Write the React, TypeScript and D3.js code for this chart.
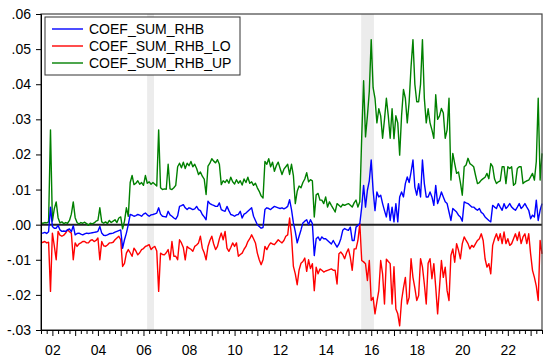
import { axisBottom, axisLeft, line, range, scaleLinear, select } from "d3";
import { useEffect, useRef } from "react";

// monthly observations, first one is 2001M07
const START_YEAR = 2001;
const START_MONTH = 7;

// one row per calendar year (2001 has Jul-Dec, 2023 has Jan-Jul)
const coefSumRhb = [
  -0.0024, -0.0024, -0.0022, -0.0025, -0.0020, 0.0050,
  -0.0005, -0.0010, -0.0010, -0.0002, -0.0015, -0.0019, -0.0018, -0.0019, -0.0015, -0.0012, -0.0020, -0.0003,
  -0.0029, -0.0025, -0.0024, -0.0027, -0.0029, -0.0026, -0.0024, -0.0025, -0.0024, -0.0023, -0.0022, -0.0021,
  -0.0019, -0.0005, -0.0024, -0.0030, -0.0031, -0.0029, -0.0026, -0.0025, -0.0024, -0.0021, -0.0019, -0.0017,
  -0.0015, -0.0067, -0.0043, -0.0024, 0.0000, 0.0029, 0.0027, 0.0024, 0.0026, 0.0029, 0.0027, 0.0024,
  0.0030, 0.0033, 0.0028, 0.0024, 0.0028, 0.0029, 0.0031, 0.0033, 0.0048, 0.0030, 0.0024, 0.0023,
  0.0022, 0.0038, 0.0028, 0.0024, 0.0019, 0.0016, 0.0025, 0.0052, 0.0054, 0.0057, 0.0048, 0.0043,
  0.0048, 0.0046, 0.0043, 0.0045, 0.0052, 0.0043, 0.0040, 0.0029, 0.0022, 0.0014, 0.0067, 0.0060,
  0.0057, 0.0055, 0.0052, 0.0052, 0.0062, 0.0043, 0.0040, 0.0038, 0.0052, 0.0040, 0.0029, 0.0027,
  0.0024, 0.0028, 0.0029, 0.0038, 0.0019, 0.0030, 0.0033, 0.0038, 0.0043, 0.0048, 0.0024, 0.0012,
  0.0000, -0.0005, -0.0010, -0.0008, 0.0043, 0.0048, 0.0046, 0.0043, 0.0048, 0.0052, 0.0050, 0.0048,
  0.0046, 0.0048, 0.0045, 0.0048, 0.0052, 0.0071, 0.0043, 0.0005, -0.0020, -0.0052, -0.0033, -0.0015,
  0.0005, 0.0010, 0.0014, 0.0000, 0.0014, 0.0003, -0.0088, -0.0040, -0.0035, -0.0045, -0.0035, -0.0040,
  -0.0040, -0.0045, -0.0050, -0.0055, -0.0045, -0.0055, -0.0064, -0.0055, -0.0040, -0.0016, -0.0011, -0.0014,
  -0.0016, -0.0007, -0.0045, -0.0045, -0.0007, -0.0002, 0.0003, 0.0050, 0.0112, 0.0050, 0.0098, 0.0125,
  0.0184, 0.0098, 0.0040, 0.0093, 0.0079, 0.0084, 0.0060, 0.0040, 0.0022, 0.0060, 0.0012, 0.0050,
  0.0008, 0.0060, 0.0008, 0.0079, 0.0093, 0.0079, 0.0117, 0.0136, 0.0120, 0.0150, 0.0184, 0.0107,
  0.0084, 0.0117, 0.0079, 0.0184, 0.0117, 0.0079, 0.0079, 0.0093, 0.0079, 0.0055, 0.0112, 0.0060,
  0.0075, 0.0093, 0.0079, 0.0065, 0.0060, 0.0036, 0.0012, 0.0046, 0.0041, 0.0036, 0.0027, 0.0022,
  0.0010, 0.0065, 0.0062, 0.0060, 0.0055, 0.0050, 0.0050, 0.0045, 0.0041, 0.0046, 0.0035, 0.0031,
  0.0022, 0.0017, 0.0012, 0.0008, 0.0055, 0.0050, 0.0046, 0.0060, 0.0050, 0.0041, 0.0060, 0.0046,
  0.0052, 0.0060, 0.0050, 0.0045, 0.0041, 0.0050, 0.0060, 0.0046, 0.0052, 0.0060, 0.0050, 0.0041,
  0.0017, 0.0027, 0.0022, 0.0070, 0.0012, 0.0041, 0.0060,
];

const coefSumRhbLo = [
  -0.0052, -0.0050, -0.0048, -0.0052, -0.0050, -0.0190,
  -0.0024, -0.0060, -0.0100, -0.0019, -0.0030, -0.0033, -0.0030, -0.0024, -0.0014, -0.0020, -0.0024, -0.0100,
  -0.0052, -0.0062, -0.0055, -0.0052, -0.0048, -0.0048, -0.0052, -0.0052, -0.0045, -0.0043, -0.0048, -0.0045,
  -0.0038, -0.0100, -0.0048, -0.0060, -0.0062, -0.0058, -0.0052, -0.0052, -0.0050, -0.0043, -0.0038, -0.0033,
  -0.0043, -0.0119, -0.0110, -0.0081, -0.0071, -0.0080, -0.0090, -0.0067, -0.0075, -0.0086, -0.0080, -0.0071,
  -0.0068, -0.0062, -0.0060, -0.0057, -0.0071, -0.0065, -0.0062, -0.0075, -0.0190, -0.0081, -0.0085, -0.0086,
  -0.0080, -0.0071, -0.0100, -0.0048, -0.0090, -0.0090, -0.0100, -0.0043, -0.0052, -0.0065, -0.0100, -0.0062,
  -0.0067, -0.0070, -0.0076, -0.0062, -0.0058, -0.0052, -0.0033, -0.0067, -0.0080, -0.0100, -0.0062, -0.0045,
  -0.0033, -0.0055, -0.0071, -0.0062, -0.0040, -0.0024, -0.0043, -0.0019, -0.0067, -0.0076, -0.0065, -0.0052,
  -0.0062, -0.0052, -0.0090, -0.0085, -0.0081, -0.0070, -0.0062, -0.0048, -0.0040, -0.0029, -0.0040, -0.0052,
  -0.0081, -0.0100, -0.0114, -0.0100, -0.0062, -0.0071, -0.0060, -0.0052, -0.0055, -0.0057, -0.0050, -0.0043,
  -0.0048, -0.0052, -0.0045, -0.0033, -0.0029, 0.0019, -0.0033, -0.0119, -0.0140, -0.0171, -0.0129, -0.0110,
  -0.0105, -0.0095, -0.0133, -0.0100, -0.0125, -0.0111, -0.0188, -0.0121, -0.0140, -0.0126, -0.0130, -0.0135,
  -0.0132, -0.0130, -0.0128, -0.0126, -0.0130, -0.0130, -0.0169, -0.0083, -0.0078, -0.0085, -0.0097, -0.0080,
  -0.0069, -0.0093, -0.0130, -0.0069, -0.0069, -0.0045, 0.0003, -0.0102, -0.0106, -0.0111, -0.0159, -0.0102,
  -0.0216, -0.0207, -0.0254, -0.0220, -0.0188, -0.0102, -0.0140, -0.0226, -0.0098, -0.0105, -0.0111, -0.0226,
  -0.0120, -0.0240, -0.0254, -0.0288, -0.0216, -0.0180, -0.0150, -0.0226, -0.0207, -0.0097, -0.0150, -0.0180,
  -0.0216, -0.0202, -0.0097, -0.0120, -0.0169, -0.0226, -0.0110, -0.0097, -0.0154, -0.0111, -0.0178, -0.0254,
  -0.0178, -0.0102, -0.0150, -0.0121, -0.0188, -0.0216, -0.0088, -0.0069, -0.0107, -0.0054, -0.0073, -0.0097,
  -0.0054, -0.0035, -0.0045, -0.0054, -0.0069, -0.0059, -0.0064, -0.0054, -0.0045, -0.0040, -0.0026, -0.0045,
  -0.0097, -0.0121, -0.0111, -0.0140, -0.0059, -0.0040, -0.0026, -0.0045, -0.0026, -0.0054, -0.0021, -0.0054,
  -0.0040, -0.0059, -0.0054, -0.0040, -0.0026, -0.0045, -0.0021, -0.0054, -0.0035, -0.0026, -0.0054, -0.0026,
  -0.0083, -0.0130, -0.0150, -0.0175, -0.0216, -0.0045, -0.0083,
];

const coefSumRhbUp = [
  0.0005, 0.0004, 0.0006, 0.0005, 0.0008, 0.0270,
  0.0010, 0.0045, 0.0065, 0.0020, 0.0005, 0.0008, 0.0003, 0.0006, 0.0004, 0.0012, 0.0030, 0.0065,
  0.0020, 0.0006, 0.0002, 0.0006, 0.0004, 0.0007, 0.0003, -0.0002, 0.0004, 0.0002, 0.0005, 0.0010,
  0.0012, 0.0048, 0.0008, 0.0004, 0.0008, 0.0003, 0.0012, 0.0006, 0.0010, 0.0014, 0.0006, 0.0019,
  0.0022, -0.0012, 0.0010, 0.0048, 0.0024, 0.0120, 0.0140, 0.0114, 0.0118, 0.0125, 0.0115, 0.0120,
  0.0112, 0.0140, 0.0118, 0.0122, 0.0115, 0.0120, 0.0115, 0.0110, 0.0270, 0.0105, 0.0100, 0.0102,
  0.0101, 0.0172, 0.0102, 0.0100, 0.0105, 0.0112, 0.0165, 0.0175, 0.0162, 0.0178, 0.0160, 0.0175,
  0.0168, 0.0180, 0.0165, 0.0172, 0.0160, 0.0143, 0.0150, 0.0138, 0.0130, 0.0086, 0.0167, 0.0175,
  0.0188, 0.0181, 0.0176, 0.0185, 0.0172, 0.0114, 0.0125, 0.0120, 0.0128, 0.0118, 0.0135, 0.0122,
  0.0116, 0.0128, 0.0118, 0.0125, 0.0113, 0.0130, 0.0120, 0.0135, 0.0118, 0.0122, 0.0112, 0.0118,
  0.0105, 0.0095, 0.0082, 0.0076, 0.0180, 0.0172, 0.0188, 0.0165, 0.0178, 0.0152, 0.0168, 0.0178,
  0.0160, 0.0143, 0.0158, 0.0165, 0.0172, 0.0143, 0.0172, 0.0140, 0.0060, 0.0095, 0.0110, 0.0105,
  0.0120, 0.0130, 0.0148, 0.0122, 0.0128, 0.0125, 0.0022, 0.0085, 0.0089, 0.0070, 0.0070, 0.0060,
  0.0079, 0.0050, 0.0065, 0.0055, 0.0046, 0.0036, 0.0060, 0.0055, 0.0050, 0.0058, 0.0055, 0.0058,
  0.0060, 0.0055, 0.0050, 0.0062, 0.0070, 0.0050, 0.0065, 0.0250, 0.0410, 0.0250, 0.0310, 0.0380,
  0.0527, 0.0390, 0.0360, 0.0290, 0.0330, 0.0310, 0.0246, 0.0300, 0.0360, 0.0310, 0.0246, 0.0330,
  0.0245, 0.0310, 0.0290, 0.0198, 0.0310, 0.0385, 0.0360, 0.0290, 0.0350, 0.0450, 0.0527, 0.0400,
  0.0350, 0.0350, 0.0400, 0.0527, 0.0360, 0.0290, 0.0330, 0.0290, 0.0270, 0.0246, 0.0370, 0.0300,
  0.0310, 0.0331, 0.0318, 0.0246, 0.0270, 0.0360, 0.0127, 0.0203, 0.0174, 0.0146, 0.0150, 0.0120,
  0.0084, 0.0165, 0.0170, 0.0189, 0.0174, 0.0170, 0.0165, 0.0140, 0.0117, 0.0120, 0.0127, 0.0131,
  0.0135, 0.0146, 0.0131, 0.0174, 0.0165, 0.0130, 0.0117, 0.0122, 0.0125, 0.0165, 0.0165, 0.0117,
  0.0165, 0.0160, 0.0165, 0.0112, 0.0117, 0.0160, 0.0165, 0.0165, 0.0117, 0.0122, 0.0125, 0.0127,
  0.0136, 0.0146, 0.0127, 0.0180, 0.0360, 0.0127, 0.0203,
];

const seriesNames = ["COEF_SUM_RHB", "COEF_SUM_RHB_LO", "COEF_SUM_RHB_UP"];
const seriesColors = ["#0000ff", "#ff0000", "#008000"];

// shaded periods, in fractional years
const shadeStart = [2006.16, 2015.56];
const shadeEnd = [2006.46, 2016.12];

const yTicks = [-0.03, -0.02, -0.01, 0, 0.01, 0.02, 0.03, 0.04, 0.05, 0.06];
const yearLabels = ["02", "04", "06", "08", "10", "12", "14", "16", "18", "20", "22"];

const FONT = "'Liberation Sans', Arial, sans-serif";

export default function App() {
  const ref = useRef<SVGSVGElement>(null);

  useEffect(() => {
    const svg = select(ref.current);
    svg.selectAll("*").remove();

    const left = 41, right = 542, top = 14, bottom = 330;
    const t0 = START_YEAR + (START_MONTH - 1) / 12;
    const n = coefSumRhb.length;
    const dates = range(n).map((i) => t0 + i / 12);

    const x = scaleLinear().domain([t0, dates[n - 1]]).range([left, right]);
    const y = scaleLinear().domain([-0.03, 0.06]).range([bottom, top]);

    // shading
    svg.append("g")
      .selectAll("rect")
      .data(shadeStart)
      .join("rect")
      .attr("x", (d) => x(d))
      .attr("width", (d, i) => x(shadeEnd[i]) - x(d))
      .attr("y", top)
      .attr("height", bottom - top)
      .attr("fill", "#ececec");

    // zero line
    svg.append("line")
      .attr("x1", left).attr("x2", right)
      .attr("y1", y(0)).attr("y2", y(0))
      .attr("stroke", "#222")
      .attr("stroke-width", 2);

    const data = [coefSumRhb, coefSumRhbLo, coefSumRhbUp];
    const l = line<number>()
      .x((d, i) => x(dates[i]))
      .y((d) => y(d));
    // green first, blue on top
    [2, 1, 0].forEach((k) => {
      svg.append("path")
        .datum(data[k])
        .attr("d", l)
        .attr("fill", "none")
        .attr("stroke", seriesColors[k])
        .attr("stroke-width", 1.4)
        .attr("stroke-linejoin", "round");
    });

    // frame
    svg.append("rect")
      .attr("x", left).attr("y", top)
      .attr("width", right - left).attr("height", bottom - top)
      .attr("fill", "none")
      .attr("stroke", "#444")
      .attr("stroke-width", 1.2);

    // y axis
    const fmt = (v: number) => v.toFixed(2).replace("0.", ".");
    const ya = svg.append("g")
      .attr("transform", `translate(${left},0)`)
      .call(axisLeft(y).tickValues(yTicks).tickSize(5).tickPadding(5).tickFormat((d) => fmt(+d)));
    ya.select(".domain").attr("stroke", "#000");
    ya.selectAll("text").attr("font-size", 14).attr("font-family", FONT).attr("fill", "#000");

    // x axis: quarterly minor ticks, yearly major ticks
    const quarters = range(2001.75, 2023.6, 0.25).filter((q) => q >= t0 && q <= dates[n - 1] && q % 1 !== 0);
    const years = range(2002, 2024);
    svg.append("g")
      .attr("transform", `translate(0,${bottom})`)
      .call(axisBottom(x).tickValues(quarters).tickSize(4).tickFormat(() => ""))
      .call((g) => g.select(".domain").attr("stroke", "#000"));
    const xa = svg.append("g")
      .attr("transform", `translate(0,${bottom})`)
      .call(axisBottom(x).tickValues(years).tickSize(6).tickPadding(9)
        .tickFormat((d) => {
          const s = String(+d).slice(2);
          return yearLabels.includes(s) ? s : "";
        }));
    xa.select(".domain").remove();
    xa.selectAll("text").attr("font-size", 14).attr("font-family", FONT).attr("fill", "#000");

    // legend
    const lg = svg.append("g");
    lg.append("rect")
      .attr("x", 45).attr("y", 17)
      .attr("width", 195).attr("height", 58)
      .attr("fill", "#fff")
      .attr("stroke", "#333");
    seriesNames.forEach((name, i) => {
      const ly = 29 + i * 17;
      lg.append("line")
        .attr("x1", 52).attr("x2", 83)
        .attr("y1", ly).attr("y2", ly)
        .attr("stroke", seriesColors[i])
        .attr("stroke-width", 1.4);
      lg.append("text")
        .attr("x", 89).attr("y", ly + 5)
        .attr("font-size", 14)
        .attr("font-family", FONT)
        .text(name);
    });
  }, []);

  return (
    <svg ref={ref} width={550} height={363} viewBox="0 0 550 363"
      style={{ position: "absolute", left: 0, top: 0, background: "#fff" }}></svg>
  );
}
